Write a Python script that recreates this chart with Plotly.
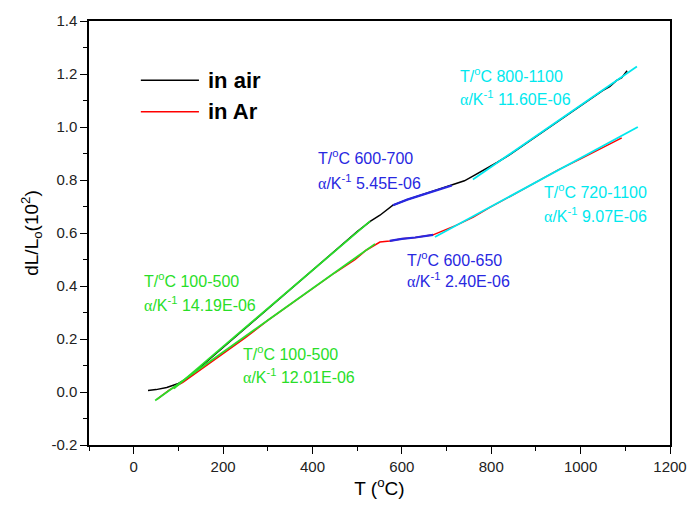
import plotly.graph_objects as go

# Dilatometer curves: relative elongation dL/Lo (x10^2) vs temperature
t_air = [32, 50, 74, 100, 119, 150, 200, 250, 300, 350, 400, 450, 500, 530, 551,
         580, 612, 647, 680, 712, 740, 759, 790, 813, 840, 871, 900, 938, 970,
         1000, 1014, 1030, 1050, 1065, 1080, 1092, 1104]
y_air = [0.006, 0.009, 0.017, 0.032, 0.050, 0.095, 0.170, 0.243, 0.315, 0.388,
         0.460, 0.532, 0.605, 0.645, 0.667, 0.705, 0.726, 0.745, 0.763, 0.779,
         0.797, 0.815, 0.843, 0.866, 0.894, 0.930, 0.962, 1.006, 1.043, 1.078,
         1.094, 1.116, 1.138, 1.152, 1.175, 1.186, 1.212]

t_ar = [52, 80, 110, 150, 200, 250, 300, 350, 400, 450, 495, 520, 551, 573, 600,
        630, 670, 696, 720, 760, 797, 850, 902, 950, 1000, 1050, 1092]
y_ar = [-0.028, 0.008, 0.036, 0.085, 0.145, 0.205, 0.270, 0.330, 0.390, 0.450,
        0.499, 0.535, 0.566, 0.570, 0.578, 0.583, 0.593, 0.611, 0.628, 0.660,
        0.697, 0.745, 0.795, 0.838, 0.880, 0.923, 0.959]

# Linear fit segments (end points)
fit_air_low_t, fit_air_low_y = [90, 529], [0.013, 0.645]
fit_ar_low_t, fit_ar_low_y = [48, 540], [-0.032, 0.559]
fit_air_high_t, fit_air_high_y = [759, 1126], [0.802, 1.228]
fit_ar_high_t, fit_ar_high_y = [674, 1128], [0.585, 1.000]

# Temperature windows of the intermediate (blue) fits
win_air = (580, 712)
win_ar = (573, 670)

# Axis ticks
y_ticks = [-0.2, 0.0, 0.2, 0.4, 0.6, 0.8, 1.0, 1.2, 1.4]
y_tick_labels = ["-0.2", "0.0", "0.2", "0.4", "0.6", "0.8", "1.0", "1.2", "1.4"]
x_ticks = [0, 200, 400, 600, 800, 1000, 1200]
x_tick_labels = ["0", "200", "400", "600", "800", "1000", "1200"]

# Labels: (T, y of first line, y of second line, range text, alpha text, colour)
GREEN = "rgb(40,222,40)"
BLUE = "rgb(40,40,225)"
CYAN = "rgb(0,232,238)"
labels = [
    (408, 0.888, 0.791, "600-700", "5.45E-06", BLUE),
    (725, 1.198, 1.108, "800-1100", "11.60E-06", CYAN),
    (913, 0.757, 0.667, "720-1100", "9.07E-06", CYAN),
    (607, 0.503, 0.421, "600-650", "2.40E-06", BLUE),
    (18, 0.421, 0.331, "100-500", "14.19E-06", GREEN),
    (240, 0.148, 0.062, "100-500", "12.01E-06", GREEN),
]

FONT = "Arial, Liberation Sans, sans-serif"

fig = go.Figure()

fig.add_trace(go.Scatter(x=t_air, y=y_air, mode="lines",
                         line=dict(color="black", width=1.5), showlegend=False))
fig.add_trace(go.Scatter(x=t_ar, y=y_ar, mode="lines",
                         line=dict(color="red", width=1.5), showlegend=False))


def window(ts, ys, w):
    pts = [(t, y) for t, y in zip(ts, ys) if w[0] <= t <= w[1]]
    return [p[0] for p in pts], [p[1] for p in pts]


for ts, ys, w in [(t_air, y_air, win_air), (t_ar, y_ar, win_ar)]:
    bx, by = window(ts, ys, w)
    fig.add_trace(go.Scatter(x=bx, y=by, mode="lines",
                             line=dict(color=BLUE, width=2.2), showlegend=False))

for fx, fy, col in [(fit_air_low_t, fit_air_low_y, GREEN),
                    (fit_ar_low_t, fit_ar_low_y, GREEN),
                    (fit_air_high_t, fit_air_high_y, CYAN),
                    (fit_ar_high_t, fit_ar_high_y, CYAN)]:
    fig.add_trace(go.Scatter(x=fx, y=fy, mode="lines",
                             line=dict(color=col, width=1.8), showlegend=False))

annotations = []
for t, y1, y2, rng, alpha, col in labels:
    annotations.append(dict(x=t, y=y1, xref="x", yref="y", xanchor="left",
                            yanchor="middle", showarrow=False,
                            text=f"T/<sup>o</sup>C {rng}",
                            font=dict(family=FONT, size=16, color=col)))
    annotations.append(dict(x=t, y=y2, xref="x", yref="y", xanchor="left",
                            yanchor="middle", showarrow=False,
                            text=f"<span style='font-family:Liberation Serif'>α</span>/K<sup>-1</sup> {alpha}",
                            font=dict(family=FONT, size=16, color=col)))

# Legend drawn by hand
legend_items = [("in air", "black", 1.176), ("in Ar", "red", 1.058)]
shapes = []
for name, col, ly in legend_items:
    shapes.append(dict(type="line", xref="x", yref="y", x0=16, x1=146, y0=ly, y1=ly,
                       line=dict(color=col, width=1.5)))
    annotations.append(dict(x=162, y=ly, xref="x", yref="y", xanchor="left",
                            yanchor="middle", showarrow=False, text=f"<b>{name}</b>",
                            font=dict(family=FONT, size=22, color="black")))

fig.update_layout(
    width=699, height=506,
    margin=dict(l=89, r=29, t=17, b=61),
    paper_bgcolor="white", plot_bgcolor="white",
    font=dict(family=FONT, size=15, color="#222"),
    annotations=annotations, shapes=shapes,
    showlegend=False,
)

fig.update_xaxes(
    range=[-100, 1200], tickmode="array", tickvals=x_ticks, ticktext=x_tick_labels,
    showgrid=False, zeroline=False,
    showline=True, linecolor="black", linewidth=1.5, mirror=True,
    ticks="outside", ticklen=7, tickwidth=1.3, tickcolor="black",
    minor=dict(ticks="outside", dtick=100, tick0=-100, ticklen=4, tickwidth=1.2,
               tickcolor="black", showgrid=False),
    title=dict(text="T (<sup>o</sup>C)", font=dict(size=19, color="black"), standoff=6),
    tickfont=dict(size=15, color="#222"),
)
fig.update_yaxes(
    range=[-0.2, 1.4], tickmode="array", tickvals=y_ticks, ticktext=y_tick_labels,
    showgrid=False,
    zeroline=False, showline=True, linecolor="black", linewidth=1.5, mirror=True,
    ticks="outside", ticklen=7, tickwidth=1.3, tickcolor="black",
    minor=dict(ticks="outside", dtick=0.1, tick0=-0.2, ticklen=4, tickwidth=1.2,
               tickcolor="black", showgrid=False),
    title=dict(text="dL/L<sub>o</sub>(10<sup>2</sup>)", font=dict(size=19, color="black"),
               standoff=8),
    tickfont=dict(size=15, color="#222"),
)

fig.write_html("out.html")
